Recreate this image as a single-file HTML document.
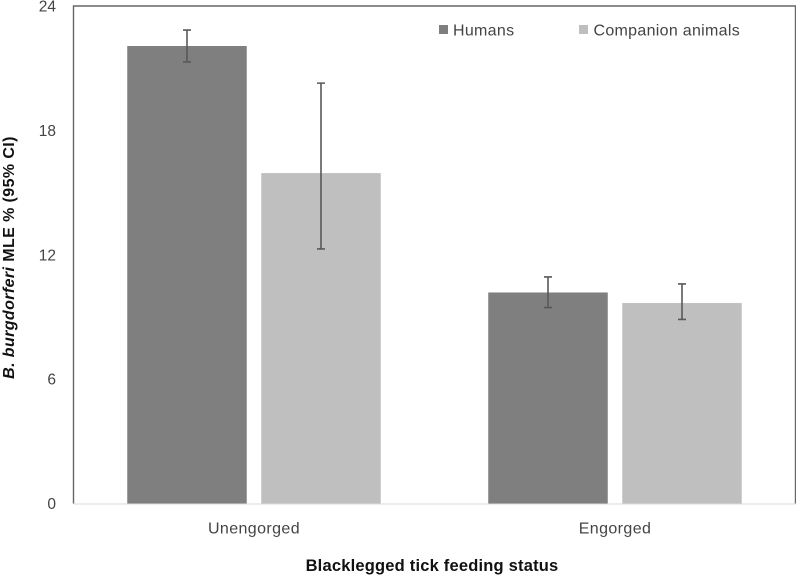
<!DOCTYPE html>
<html lang="en">
<head>
<meta charset="utf-8">
<title>B. burgdorferi MLE by tick feeding status</title>
<style>
html,body{margin:0;padding:0;background:#fff;}
svg{display:block;filter:blur(0.3px);}
text{font-family:"Liberation Sans",sans-serif;}
</style>
</head>
<body>
<svg id="chart" width="796" height="578" viewBox="0 0 796 578" xmlns="http://www.w3.org/2000/svg">
  <rect x="0" y="0" width="796" height="578" fill="#ffffff"/>
  <g id="plot"></g>
  <text transform="translate(14,257.5) rotate(-90)" text-anchor="middle" font-size="16" letter-spacing="0.4" font-weight="bold" fill="#111"><tspan font-style="italic">B. burgdorferi</tspan> MLE % (95% CI)</text>
  <text x="432" y="571" text-anchor="middle" font-size="16.5" letter-spacing="0.2" font-weight="bold" fill="#111">Blacklegged tick feeding status</text>
  <g>
    <rect x="439" y="25" width="9" height="9" fill="#7f7f7f"/>
    <text x="453" y="35.5" font-size="16" letter-spacing="0.3" fill="#444">Humans</text>
    <rect x="579" y="25" width="9" height="9" fill="#bfbfbf"/>
    <text x="593.5" y="35.5" font-size="16" letter-spacing="0.3" fill="#444">Companion animals</text>
  </g>
</svg>
<script>
const categories = ['Unengorged', 'Engorged'];
const seriesNames = ['Humans', 'Companion animals'];
const humansValues = [22.07, 10.18];
const humansLower = [21.3, 9.45];
const humansUpper = [22.84, 10.93];
const companionValues = [15.94, 9.67];
const companionLower = [12.28, 8.88];
const companionUpper = [20.28, 10.59];
const yTickLabels = [0, 6, 12, 18, 24];

const NS = 'http://www.w3.org/2000/svg';
const plot = document.getElementById('plot');
const left = 73.5, right = 795.5, top_ = 6, bottom = 503.5, yMax = 24;
const band = (right - left) / categories.length;
const barW = 119.5, gap = 14.5;
const yScale = v => bottom - (v / yMax) * (bottom - top_);
const catCenter = i => left + band * (i + 0.5);

function shape(tag, attrs, parent) {
  const el = document.createElementNS(NS, tag);
  for (const k in attrs) el.setAttribute(k, attrs[k]);
  (parent || plot).appendChild(el);
  return el;
}

const frame = shape('path', {d: 'M' + left + ' ' + bottom + 'V' + top_ + 'H' + right + 'V' + bottom, fill: 'none', stroke: '#666666', 'stroke-width': 1.4});



const series = [
  {key: 'humans', vals: humansValues, lo: humansLower, hi: humansUpper, fill: '#7f7f7f', off: -(barW + gap) / 2},
  {key: 'companion', vals: companionValues, lo: companionLower, hi: companionUpper, fill: '#bfbfbf', off: (barW + gap) / 2}
];

series.forEach(s => {
  categories.forEach((c, i) => {
    const cx = catCenter(i) + s.off;
    const slug = c.toLowerCase();
    const bar = shape('rect', {x: cx - barW / 2, y: yScale(s.vals[i]), width: barW, height: bottom - yScale(s.vals[i]), fill: s.fill});
    
    
  });
});

const baseline = shape('line', {x1: left, x2: right, y1: bottom + 0.5, y2: bottom + 0.5, stroke: '#d9d9d9', 'stroke-width': 1});



series.forEach(s => {
  categories.forEach((c, i) => {
    const cx = catCenter(i) + s.off;
    const slug = c.toLowerCase();
    const yHi = yScale(s.hi[i]), yLo = yScale(s.lo[i]);
    const err = shape('path', {
      d: 'M' + (cx - 4) + ' ' + yHi + 'H' + (cx + 4) + 'M' + cx + ' ' + yHi + 'V' + yLo + 'M' + (cx - 4) + ' ' + yLo + 'H' + (cx + 4),
      fill: 'none', stroke: '#595959', 'stroke-width': 1.6
    });
    
    
  });
});

yTickLabels.forEach(t => {
  const lbl = shape('text', {x: 56, y: yScale(t) + 5.5, 'text-anchor': 'end', 'font-size': 15.5, fill: '#444'});
  lbl.textContent = t;
  
  
});

categories.forEach((c, i) => {
  const lbl = shape('text', {x: catCenter(i), y: 533.5, 'text-anchor': 'middle', 'font-size': 16, 'letter-spacing': 0.4, fill: '#444'});
  lbl.textContent = c;
  
  
});
</script>
</body>
</html>
